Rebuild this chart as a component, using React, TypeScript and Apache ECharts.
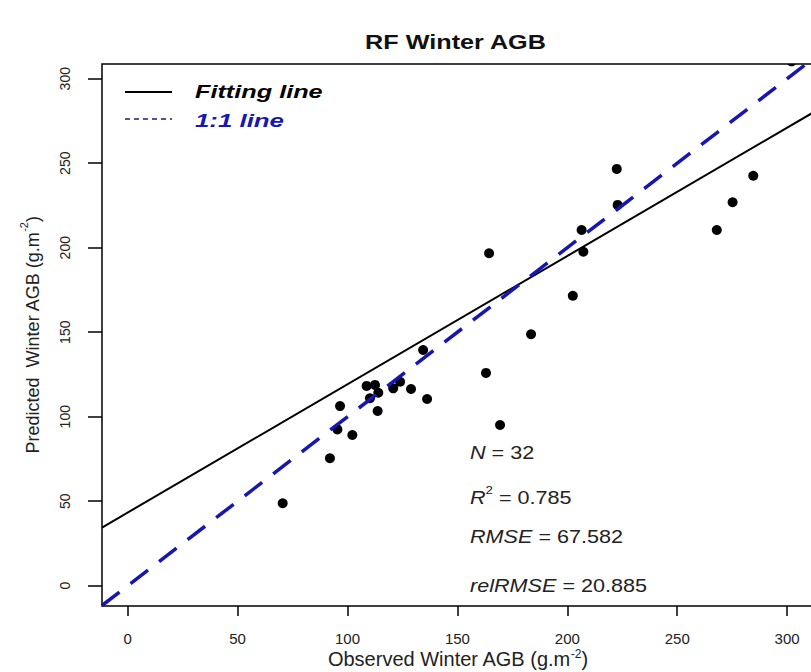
import React, { useEffect, useRef } from "react";
import * as echarts from "echarts";

// ---- data ----
const observed = [
  70.5, 92.0, 95.4, 96.6, 102.2, 108.7, 112.5, 114.0, 110.2, 113.7, 120.8, 123.9, 128.9, 134.4,
  136.2, 163.0, 169.4, 164.4, 183.5, 202.5, 206.5, 207.3, 222.9, 222.5, 268.0, 275.2, 284.6, 302.0,
];
const predicted = [
  48.8, 75.4, 92.5, 106.3, 89.2, 118.2, 118.8, 114.2, 110.9, 103.4, 116.8, 120.7, 116.4, 139.5,
  110.5, 125.9, 95.1, 196.7, 148.8, 171.6, 210.5, 197.6, 225.3, 246.6, 210.5, 226.9, 242.6, 310.3,
];
const xTicks = [0, 50, 100, 150, 200, 250, 300];
const yTicks = [0, 50, 100, 150, 200, 250, 300];
const fitIntercept = 43.3;
const fitSlope = 0.759;
const statN = "32";
const statR2 = "0.785";
const statRMSE = "67.582";
const statRelRMSE = "20.885";
const titleText = "RF Winter AGB";
const legendFit = "Fitting line";
const legendOne = "1:1 line";

const X_MIN = -11.7;
const X_MAX = 312;
const Y_MIN = -12;
const Y_MAX = 308.7;

const FONT = '"Liberation Sans", Arial, sans-serif';
const BLUE = "#1616b2";

export default function App() {
  const ref = useRef<HTMLDivElement>(null);

  useEffect(() => {
    if (!ref.current) return;
    const chart = echarts.init(ref.current, null, { renderer: "svg" });
    const points = observed.map((x, i) => [x, predicted[i]]);
    const fitData = [
      [X_MIN, fitIntercept + fitSlope * X_MIN],
      [X_MAX, fitIntercept + fitSlope * X_MAX],
    ];
    const oneData = [
      [X_MIN, X_MIN],
      [X_MAX, X_MAX],
    ];

    const mainRich = (size: number) => ({
      i: { fontStyle: "italic", fontSize: size, fontFamily: FONT, lineHeight: 26, fill: "#222", color: "#222" },
      n: { fontSize: size, fontFamily: FONT, lineHeight: 26, fill: "#222", color: "#222" },
      s: { fontSize: 11, fontFamily: FONT, lineHeight: 8, verticalAlign: "top", fill: "#222", color: "#222" },
    });

    const statText = (txt: string, y: number) => ({
      type: "text",
      x: 470,
      y,
      scaleX: 1.2,
      z: 10,
      style: {
        text: txt,
        rich: mainRich(18),
        fontSize: 18,
        fontFamily: FONT,
        lineHeight: 26,
        fill: "#222",
        align: "left",
        textAlign: "left",
        verticalAlign: "middle",
        textVerticalAlign: "middle",
      },
    });

    chart.setOption({
      animation: false,
      backgroundColor: "#ffffff",
      grid: {
        left: 102,
        top: 64,
        width: 711.5,
        height: 542,
        show: true,
        borderColor: "#000",
        borderWidth: 1.5,
        backgroundColor: "transparent",
        containLabel: false,
        outerBoundsMode: "none",
      },
      xAxis: {
        type: "value",
        min: X_MIN,
        max: X_MAX,
        axisLine: { show: false, onZero: false },
        axisTick: { show: true, customValues: xTicks, length: 10, lineStyle: { color: "#000", width: 1.5 } },
        axisLabel: { customValues: xTicks, fontSize: 15, color: "#222", margin: 25, fontFamily: FONT },
        splitLine: { show: false },
        name: "Observed Winter AGB (g.m{s|-2})",
        nameLocation: "middle",
        nameGap: 42,
        nameMoveOverlap: false,
        nameTextStyle: {
          fontSize: 20,
          color: "#222",
          fontFamily: FONT,
          lineHeight: 22,
          rich: { s: { fontSize: 12, lineHeight: 8, verticalAlign: "top", color: "#222", fontFamily: FONT } },
        },
      },
      yAxis: {
        type: "value",
        min: Y_MIN,
        max: Y_MAX,
        axisLine: { show: false, onZero: false },
        axisTick: { show: true, customValues: yTicks, length: 14, lineStyle: { color: "#000", width: 1.5 } },
        axisLabel: { customValues: yTicks, fontSize: 14, color: "#222", margin: 30, rotate: 90, fontFamily: FONT },
        splitLine: { show: false },
        name: "Predicted  Winter AGB (g.m{s|-2})",
        nameLocation: "middle",
        nameGap: 54,
        nameMoveOverlap: false,
        nameTextStyle: {
          fontSize: 18,
          color: "#222",
          fontFamily: FONT,
          lineHeight: 30,
          rich: { s: { fontSize: 11, lineHeight: 8, verticalAlign: "top", color: "#222", fontFamily: FONT } },
        },
      },
      series: [
        {
          type: "custom",
          name: "Observations",
          coordinateSystem: "cartesian2d",
          clip: true,
          data: points,
          encode: { x: 0, y: 1 },
          renderItem: (params: any, api: any) => {
            const p = api.coord([api.value(0), api.value(1)]);
            return { type: "circle", shape: { cx: p[0], cy: p[1], r: 5 }, style: { fill: "#000" } };
          },
          z: 2,
        },
        {
          type: "line",
          name: legendFit,
          data: fitData,
          symbol: "none",
          clip: true,
          lineStyle: { color: "#000", width: 2 },
          z: 3,
        },
        {
          type: "line",
          name: legendOne,
          data: oneData,
          symbol: "none",
          clip: true,
          lineStyle: { color: BLUE, width: 3.5, type: [22, 14] },
          z: 4,
        },
      ],
      graphic: [
        {
          type: "text",
          x: 455.5,
          y: 42,
          scaleX: 1.2,
          style: {
            text: titleText,
            fontSize: 21,
            fontWeight: "bold",
            fontFamily: FONT,
            fill: "#111",
            align: "center",
            textAlign: "center",
            verticalAlign: "middle",
            textVerticalAlign: "middle",
          },
        },
        {
          type: "line",
          shape: { x1: 125, y1: 92, x2: 172, y2: 92 },
          style: { stroke: "#000", lineWidth: 2 },
        },
        {
          type: "line",
          shape: { x1: 125, y1: 119, x2: 172, y2: 119 },
          style: { stroke: "#1a1a80", lineWidth: 1.5, lineDash: [5, 4] },
        },
        {
          type: "text",
          x: 195,
          y: 92,
          scaleX: 1.33,
          style: {
            text: legendFit,
            fontSize: 19,
            fontWeight: "bold",
            fontStyle: "italic",
            fontFamily: FONT,
            fill: "#000",
            align: "left",
            textAlign: "left",
            verticalAlign: "middle",
            textVerticalAlign: "middle",
          },
        },
        {
          type: "text",
          x: 195,
          y: 120,
          scaleX: 1.36,
          style: {
            text: legendOne,
            fontSize: 19,
            fontWeight: "bold",
            fontStyle: "italic",
            fontFamily: FONT,
            fill: BLUE,
            align: "left",
            textAlign: "left",
            verticalAlign: "middle",
            textVerticalAlign: "middle",
          },
        },
        statText(`{i|N}{n| = ${statN}}`, 453),
        statText(`{i|R}{s|2}{n| = ${statR2}}`, 498),
        statText(`{i|RMSE}{n| = ${statRMSE}}`, 537),
        statText(`{i|relRMSE}{n| = ${statRelRMSE}}`, 586),
      ],
    });

    return () => chart.dispose();
  }, []);

  return <div ref={ref} style={{ position: "absolute", left: 0, top: 0, width: 811, height: 672 }} />;
}
